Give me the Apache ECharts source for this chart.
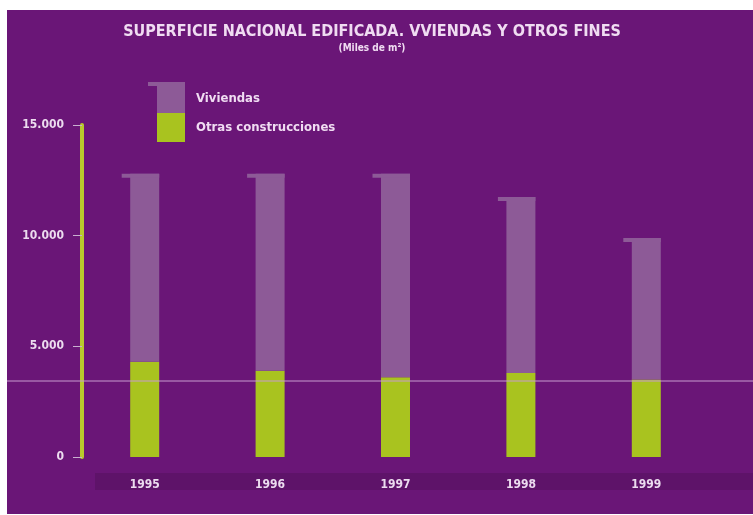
<!DOCTYPE html>
<html>
<head>
<meta charset="utf-8">
<script src="https://cdn.jsdelivr.net/npm/echarts@6/dist/echarts.min.js"></script>
<style>
  body { margin: 0; background: #fff; }
  #chart { width: 753px; height: 515px; }
</style>
</head>
<body>
<div id="chart"></div>
<script>
// datos (miles de m2)
const years = ['1995', '1996', '1997', '1998', '1999']
const otras = [4300, 3900, 3600, 3800, 3500]
const viviendas = [8500, 8900, 9200, 7950, 6400]
const yTicks = [0, 5000, 10000, 15000]

const purple = '#8d5a97'
const green = '#a9c31f'
const fontFam = '"DejaVu Sans Condensed", "Liberation Sans Narrow", sans-serif'

const totals = years.map((y, i) => [i, otras[i] + viviendas[i]])

const chart = echarts.init(document.getElementById('chart'))

const option = {
  backgroundColor: '#ffffff',
  animation: false,
  title: {
    text: 'SUPERFICIE NACIONAL EDIFICADA. VVIENDAS Y OTROS FINES',
    subtext: '(Miles de m²)',
    left: 367,
    textAlign: 'center',
    top: 19,
    itemGap: 3,
    textStyle: { color: '#f0dcf2', fontSize: 16, fontWeight: 'bold', fontFamily: fontFam },
    subtextStyle: { color: '#f0dcf2', fontSize: 10, fontWeight: 'bold', fontFamily: fontFam }
  },
  legend: {
    data: ['Viviendas', 'Otras construcciones'],
    orient: 'vertical',
    left: 157,
    top: 84,
    padding: 0,
    itemWidth: 28,
    itemHeight: 29,
    itemGap: 0,
    icon: 'rect',
    selectedMode: false,
    textStyle: { color: '#f0dcf2', fontSize: 13, fontWeight: 'bold', fontFamily: fontFam, padding: [0, 0, 0, 6] }
  },
  grid: { left: 82, top: 125, width: 627, height: 332 },
  xAxis: {
    type: 'category',
    data: years,
    axisLine: { show: false },
    axisTick: { show: false },
    axisLabel: { color: '#ecdcef', fontSize: 12, fontWeight: 'bold', fontFamily: fontFam, margin: 22 }
  },
  yAxis: {
    type: 'value',
    min: 0,
    max: 15000,
    interval: 5000,
    splitLine: { show: false },
    axisLine: { show: true, lineStyle: { color: '#b9c92c', width: 4 } },
    axisTick: { show: true, length: 9, lineStyle: { color: '#c9b0cf', width: 1 } },
    axisLabel: {
      color: '#ecdcef', fontSize: 12, fontWeight: 'bold', fontFamily: fontFam, margin: 18,
      formatter: v => yTicks.includes(v) ? String(v).replace(/\B(?=(\d{3})+(?!\d))/g, '.') : ''
    }
  },
  graphic: [
    { type: 'rect', z: -10, shape: { x: 7, y: 10, width: 746, height: 504 }, style: { fill: '#6a1677' } },
    { type: 'rect', z: -9, shape: { x: 95, y: 473, width: 658, height: 17 }, style: { fill: '#5e1369' } },
    { type: 'rect', z: 5, shape: { x: 148, y: 82, width: 37, height: 4 }, style: { fill: purple } },
    { type: 'line', z: 10, shape: { x1: 7, y1: 381, x2: 753, y2: 381 }, style: { stroke: '#c79bd0', lineWidth: 1 } }
  ],
  series: [
    {
      name: 'Otras construcciones',
      type: 'bar',
      stack: 'total',
      data: otras,
      barWidth: 29,
      itemStyle: { color: green }
    },
    {
      name: 'Viviendas',
      type: 'bar',
      stack: 'total',
      data: viviendas,
      barWidth: 29,
      itemStyle: { color: purple }
    },
    {
      // remate superior de cada barra
      type: 'custom',
      name: 'cap',
      data: totals,
      z: 3,
      renderItem: (params, api) => {
        const p = api.coord([api.value(0), api.value(1)])
        return {
          type: 'rect',
          shape: { x: p[0] - 23, y: p[1], width: 37.5, height: 4 },
          style: { fill: purple }
        }
      }
    }
  ]
}

chart.setOption(option)
</script>
</body>
</html>
